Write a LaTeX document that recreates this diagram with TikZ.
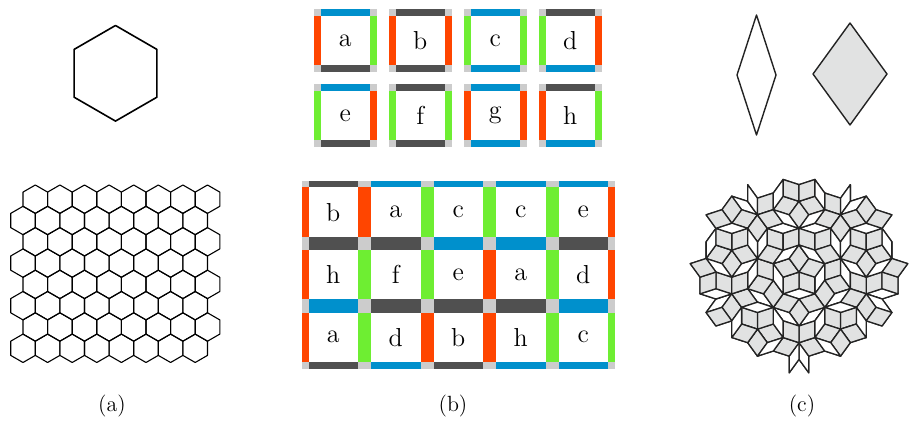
\documentclass[tikz,border=0pt]{standalone}
\usepackage{tikz}

\definecolor{wred}{RGB}{255,69,0}
\definecolor{wgreen}{RGB}{110,238,50}
\definecolor{wblue}{RGB}{0,144,204}
\definecolor{wdark}{RGB}{80,80,80}
\definecolor{wcorner}{RGB}{204,204,204}
\definecolor{thickfill}{RGB}{225,226,226}
\definecolor{penline}{RGB}{35,35,35}

% tile edges: top, right, bottom, left
\def\tilea{{wblue}{wgreen}{wdark}{wred}}
\def\tileb{{wdark}{wred}{wdark}{wred}}
\def\tilec{{wblue}{wgreen}{wblue}{wgreen}}
\def\tiled{{wdark}{wred}{wblue}{wgreen}}
\def\tilee{{wblue}{wred}{wdark}{wgreen}}
\def\tilef{{wdark}{wgreen}{wdark}{wgreen}}
\def\tileg{{wblue}{wred}{wblue}{wred}}
\def\tileh{{wdark}{wgreen}{wblue}{wred}}

\def\ws{62.5}% tile side
\def\wt{6.5}% edge bar

\newcommand\wangdraw[8]{%
  \fill[wcorner] (#6,#7) rectangle ++(\ws,\ws);
  \fill[#1] (#6+\wt,#7) rectangle ++(\ws-2*\wt,\wt);
  \fill[#3] (#6+\wt,#7+\ws-\wt) rectangle ++(\ws-2*\wt,\wt);
  \fill[#4] (#6,#7+\wt) rectangle ++(\wt,\ws-2*\wt);
  \fill[#2] (#6+\ws-\wt,#7+\wt) rectangle ++(\wt,\ws-2*\wt);
  \fill[white] (#6+\wt,#7+\wt) rectangle ++(\ws-2*\wt,\ws-2*\wt);
  \node[letter] (#5) at (#6+\ws/2,#7+\ws/2) {#8};}
\newcommand\wang[4]{% name, x, y, letter
  \expandafter\expandafter\expandafter\wangdraw\csname tile#4\endcsname{#1}{#2}{#3}{#4}}

% Penrose patch: rhombus centres inside this ellipse are kept
\def\pcx{799}\def\pcy{272}\def\prx{101}\def\pry{87}
\newcommand\rhomb[7]{%
  \pgfmathsetmacro\mdx{((#4+#6)/2-\pcx)/\prx}%
  \pgfmathsetmacro\mdy{((#5+#7)/2-\pcy)/\pry}%
  \pgfmathtruncatemacro\inside{(\mdx)*(\mdx)+(\mdy)*(\mdy)<1 ? 1 : 0}%
  \ifnum\inside=1\relax
    \ifnum#1=1 \def\rfill{thickfill}\else\def\rfill{white}\fi
    \filldraw[penrose,fill=\rfill] (#2,#3) -- (#4,#5) -- ({#4+#6-#2},{#5+#7-#3}) -- (#6,#7) -- cycle;
  \fi}
\newcommand\rtri[8]{% kind, depth, A, B, C
  \ifnum#2=0\relax
    \rhomb{#1}{#3}{#4}{#5}{#6}{#7}{#8}%
  \else
    \pgfmathtruncatemacro\dd{#2-1}%
    \ifnum#1=0\relax
      \pgfmathsetmacro\Px{#3+(#5-#3)*0.618034}%
      \pgfmathsetmacro\Py{#4+(#6-#4)*0.618034}%
      \edef\nexta{\noexpand\rtri{0}{\dd}{#7}{#8}{\Px}{\Py}{#5}{#6}}%
      \edef\nextb{\noexpand\rtri{1}{\dd}{\Px}{\Py}{#7}{#8}{#3}{#4}}%
      {\nexta}{\nextb}%
    \else
      \pgfmathsetmacro\Qx{#5+(#3-#5)*0.618034}%
      \pgfmathsetmacro\Qy{#6+(#4-#6)*0.618034}%
      \pgfmathsetmacro\Rx{#5+(#7-#5)*0.618034}%
      \pgfmathsetmacro\Ry{#6+(#8-#6)*0.618034}%
      \edef\nexta{\noexpand\rtri{1}{\dd}{\Rx}{\Ry}{#7}{#8}{#3}{#4}}%
      \edef\nextb{\noexpand\rtri{1}{\dd}{\Qx}{\Qy}{\Rx}{\Ry}{#5}{#6}}%
      \edef\nextc{\noexpand\rtri{0}{\dd}{\Rx}{\Ry}{\Qx}{\Qy}{#3}{#4}}%
      {\nexta}{\nextb}{\nextc}%
    \fi
  \fi}

\begin{document}
\begin{tikzpicture}[x=0.5pt,y=-0.5pt,
  letter/.style={inner sep=0pt,font=\fontsize{13}{15}\selectfont},
  caption/.style={inner sep=0pt,font=\fontsize{11}{13}\selectfont},
  hexline/.style={line width=0.55pt,line join=round},
  penrose/.style={draw=penline,line width=0.65pt,line join=round}]
  \useasboundingbox (0,0) rectangle (910,422);

  % (a) hexagon and honeycomb
  \draw[line width=0.8pt,line join=round] (115.5,73.3)
    +(30:47.8) -- +(90:47.8) -- +(150:47.8) -- +(210:47.8) -- +(270:47.8) -- +(330:47.8) -- cycle;
  \foreach \j in {0,...,7}
    \foreach \i in {0,...,7}{
      \pgfmathsetmacro\hx{35.3+24.6*\i-12.3*mod(\j,2)}
      \pgfmathsetmacro\hy{199.2+21.3*\j}
      \draw[hexline] (\hx,\hy) +(30:14.2) -- +(90:14.2) -- +(150:14.2)
        -- +(210:14.2) -- +(270:14.2) -- +(330:14.2) -- cycle;
    }

  % (b) the eight tiles
  \foreach \t [count=\k from 0] in {a,b,c,d,e,f,g,h}{
    \pgfmathsetmacro\tx{314+75*mod(\k,4)}
    \pgfmathsetmacro\ty{9.3+75*int(\k/4)}
    \wang{t\t}{\tx}{\ty}{\t}
  }
  % (b) a 5x3 block
  \foreach \row [count=\r from 0] in {{b,a,c,c,e},{h,f,e,a,d},{a,d,b,h,c}}
    \foreach \t [count=\c from 0] in \row {
      \pgfmathsetmacro\tx{302+62.5*\c}
      \pgfmathsetmacro\ty{181+62.5*\r}
      \wang{g\r\c}{\tx}{\ty}{\t}
    }

  % (c) thin and thick rhombus
  \filldraw[penrose,line width=0.7pt,fill=white] (756.5,15) -- (776,75) -- (756.5,135) -- (737,75) -- cycle;
  \filldraw[penrose,line width=0.7pt,fill=thickfill] (850,23) -- (887,74) -- (850,125) -- (813,74) -- cycle;
  % (c) tiling, five deflations of the sun
  \foreach \i in {0,...,9}{
    \pgfmathsetmacro\Bx{\pcx+185*cos((2*\i-1)*18)}
    \pgfmathsetmacro\By{\pcy+185*sin((2*\i-1)*18)}
    \pgfmathsetmacro\Cx{\pcx+185*cos((2*\i+1)*18)}
    \pgfmathsetmacro\Cy{\pcy+185*sin((2*\i+1)*18)}
    \ifodd\i
      \edef\next{\noexpand\rtri{0}{5}{\pcx}{\pcy}{\Bx}{\By}{\Cx}{\Cy}}
    \else
      \edef\next{\noexpand\rtri{0}{5}{\pcx}{\pcy}{\Cx}{\Cy}{\Bx}{\By}}
    \fi
    \next
  }

  \node[caption] (capa) at (112,406) {(a)};
  \node[caption] (capb) at (453,406) {(b)};
  \node[caption] (capc) at (802,406) {(c)};
\end{tikzpicture}
\end{document}
